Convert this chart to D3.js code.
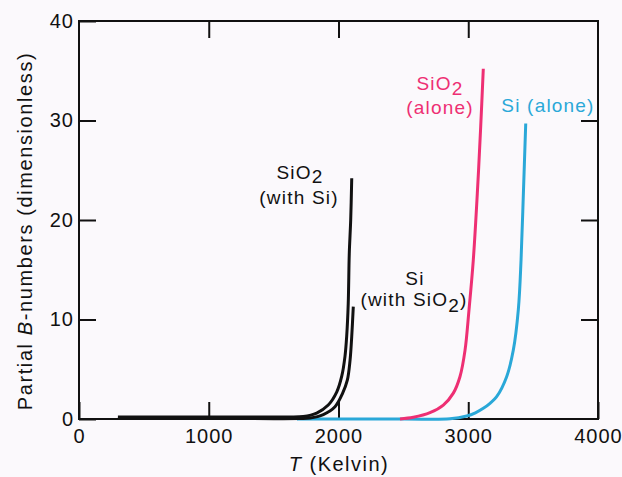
<!DOCTYPE html>
<html>
<head>
<meta charset="utf-8">
<script src="https://cdn.jsdelivr.net/npm/d3@7"></script>
<style>
  html, body { margin: 0; padding: 0; background: #fbf9fc; }
  svg { display: block; font-family: "Liberation Sans", Arial, sans-serif; }
</style>
</head>
<body>
<svg id="chart" width="622" height="477"></svg>
<script>
// ---- data (T in Kelvin, partial B-number) ----
const xTicks = [0, 1000, 2000, 3000, 4000];
const yTicks = [0, 10, 20, 30, 40];

const sio2WithSi = [[300,0.2],[1000,0.2],[1600,0.2],[1729,0.25],[1832,0.6],[1921,1.4],[1986,2.7],[2025,4.3],[2050,6.3],[2063,8.3],[2075,11.6],[2083,16.6],[2094,20.0],[2102,24.2]];
const siWithSio2 = [[300,0.05],[1000,0.05],[1700,0.05],[1780,0.1],[1883,0.45],[1973,1.24],[2032,2.6],[2068,3.9],[2089,5.9],[2102,8.3],[2114,11.3]];
const sio2Alone = [[2474,0],[2577,0.17],[2705,0.63],[2808,1.4],[2885,2.6],[2936,4.25],[2975,6.9],[3006,11.0],[3039,16.0],[3070,22.7],[3096,29.4],[3116,35.2]];
const siAlone = [[1680,0],[2500,0],[2859,0.02],[2988,0.3],[3055,0.62],[3116,1.07],[3170,1.6],[3219,2.24],[3296,4.25],[3347,6.9],[3386,11.0],[3407,16.0],[3425,22.7],[3443,29.7]];

const colBlack = "#111111", colPink = "#ee2f73", colBlue = "#2aa8d8";

// ---- layout ----
const svg = d3.select("#chart");
const x = d3.scaleLinear().domain([0, 4000]).range([79, 598]);
const y = d3.scaleLinear().domain([0, 40]).range([419, 21]);

const tickFont = 20;

const gB = svg.append("g").attr("transform", `translate(0,${y(0)})`)
  .call(d3.axisBottom(x).tickValues(xTicks).tickSizeInner(-17).tickSizeOuter(0).tickPadding(10).tickFormat(d3.format("d")));
const gL = svg.append("g").attr("transform", `translate(${x(0)},0)`)
  .call(d3.axisLeft(y).tickValues(yTicks).tickSizeInner(-17).tickSizeOuter(0).tickPadding(6).tickFormat(d3.format("d")));
const gT = svg.append("g").attr("transform", `translate(0,${y(40)})`)
  .call(d3.axisTop(x).tickValues([1000,2000,3000]).tickSizeInner(-17).tickSizeOuter(0).tickFormat(""));
const gR = svg.append("g").attr("transform", `translate(${x(4000)},0)`)
  .call(d3.axisRight(y).tickValues([10,20,30]).tickSizeInner(-17).tickSizeOuter(0).tickFormat(""));

[gB, gL, gT, gR].forEach(g => {
  g.select(".domain").remove();
  g.selectAll(".tick line").attr("stroke", colBlack).attr("stroke-width", 2);
  g.selectAll(".tick text").attr("fill", colBlack).attr("font-size", tickFont)
    .attr("font-family", "Liberation Sans, Arial, sans-serif").style("letter-spacing", "1px");
});
gL.selectAll(".tick text").attr("dx", "1px");

// frame
svg.append("rect")
  .attr("x", x(0)).attr("y", y(40))
  .attr("width", x(4000) - x(0)).attr("height", y(0) - y(40))
  .attr("fill", "none").attr("stroke", colBlack).attr("stroke-width", 2);

// curves
const line = d3.line().x(d => x(d[0])).y(d => y(d[1])).curve(d3.curveCatmullRom.alpha(0.5));
const series = [
  {data: siAlone, color: colBlue},
  {data: sio2Alone, color: colPink},
  {data: siWithSio2, color: colBlack},
  {data: sio2WithSi, color: colBlack}
];
svg.selectAll("path.curve").data(series).enter().append("path")
  .attr("class", "curve")
  .attr("d", d => line(d.data))
  .attr("fill", "none")
  .attr("stroke", d => d.color)
  .attr("stroke-width", 3)
  .attr("stroke-linecap", "butt")
  .attr("stroke-linejoin", "round");

// labels
function label(cx, yb, parts, color) {
  const t = svg.append("text").attr("x", cx).attr("y", yb)
    .attr("text-anchor", "middle").attr("fill", color)
    .attr("font-size", 19).style("letter-spacing", "1.2px");
  parts.forEach(p => {
    const s = t.append("tspan").text(p.t);
    if (p.dy) s.attr("dy", p.dy);
  });
  return t;
}
label(300, 179, [{t:"SiO"},{t:"2", dy:4}], colBlack);
label(299, 204, [{t:"(with Si)"}], colBlack);
label(415, 285, [{t:"Si"}], colBlack);
label(414, 306, [{t:"(with SiO"},{t:"2", dy:6},{t:")", dy:-6}], colBlack);
label(440, 90, [{t:"SiO"},{t:"2", dy:5}], colPink);
label(440, 114, [{t:"(alone)"}], colPink);
label(548, 112, [{t:"Si  (alone)"}], colBlue);

// axis titles
const xt = svg.append("text").attr("x", 339).attr("y", 471)
  .attr("text-anchor", "middle").attr("fill", colBlack).attr("font-size", 20)
  .style("letter-spacing", "1.5px");
xt.append("tspan").attr("font-style", "italic").text("T");
xt.append("tspan").text(" (Kelvin)");

const yt = svg.append("text")
  .attr("transform", "translate(32,231) rotate(-90)")
  .attr("text-anchor", "middle").attr("fill", colBlack).attr("font-size", 20)
  .style("letter-spacing", "1.6px");
yt.append("tspan").text("Partial ");
yt.append("tspan").attr("font-style", "italic").text("B");
yt.append("tspan").text("-numbers (dimensionless)");
</script>
</body>
</html>
